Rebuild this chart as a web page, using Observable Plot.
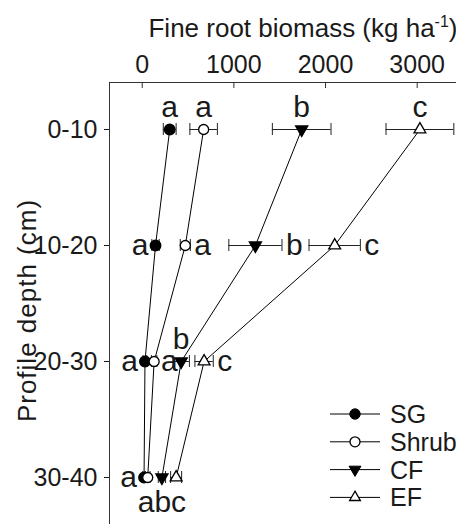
<!DOCTYPE html>
<html><head><meta charset="utf-8">
<script src="https://cdn.jsdelivr.net/npm/d3@7"></script>
<script src="https://cdn.jsdelivr.net/npm/@observablehq/plot@0.6"></script>
<style>
body{margin:0;background:#fff;}
#chart svg{display:block}
</style></head><body><div id="chart"></div>
<script>
const depths = ["0-10", "10-20", "20-30", "30-40"];
const series = ["SG", "Shrub", "CF", "EF"];
const sgMean = [300, 145, 30, 20];
const sgSE = [70, 40, 20, 15];
const shrubMean = [670, 470, 130, 60];
const shrubSE = [150, 55, 30, 25];
const cfMean = [1740, 1235, 425, 215];
const cfSE = [320, 290, 90, 40];
const efMean = [3030, 2100, 675, 370];
const efSE = [370, 280, 100, 60];
const xTicks = [0, 1000, 2000, 3000];
const xLabel = "Fine root biomass (kg ha-1)";
const yLabel = "Profile depth (cm)";
// significance letters
const letterDepth = ["0-10","0-10","0-10","0-10","10-20","10-20","10-20","10-20","20-30","20-30","20-30","20-30","30-40","30-40"];
const letterSeries = ["SG","Shrub","CF","EF","SG","Shrub","CF","EF","SG","Shrub","CF","EF","SG","CF"];
const letterText = ["a","a","b","c","a","a","b","c","a","a","b","c","a","abc"];
const letterPlace = ["above","above","above","above","left","right","right","right","left","right","above","right","left","below"];

const FONT = "'Liberation Sans Narrow', 'Liberation Sans', Arial, sans-serif";
const FONT_REG = "'Liberation Sans', Arial, sans-serif";
const means = [sgMean, shrubMean, cfMean, efMean];
const ses = [sgSE, shrubSE, cfSE, efSE];
const rows = [];
series.forEach((s, si) => depths.forEach((d, di) =>
  rows.push({series: s, depth: d, mean: means[si][di], se: ses[si][di]})));
const find = (s, d) => rows.find(r => r.series === s && r.depth === d);
const letters = letterText.map((t, i) => {
  const r = find(letterSeries[i], letterDepth[i]);
  const p = letterPlace[i];
  return {text: t, depth: r.depth, place: p, x: p === "right" ? r.mean + r.se : r.mean};
});
const of = s => rows.filter(r => r.series === s);
const lp = p => letters.filter(l => l.place === p);
const axisColor = "#333";
const LF = 30;
const TXT = "#1a1a1a";

const plot = Plot.plot({
  width: 456, height: 524,
  marginLeft: 109, marginRight: 0, marginTop: 82, marginBottom: 0,
  style: {fontFamily: FONT, fontSize: "25px", color: TXT, background: "white", overflow: "visible"},
  x: {domain: [-357, 3429], axis: "top", ticks: xTicks, tickFormat: d => String(d), tickSize: 0, tickPadding: 10, label: null},
  y: {type: "point", domain: depths, padding: 0.389, tickSize: 5, tickPadding: 7, label: null},
  marks: [
    Plot.frame({anchor: "top", stroke: axisColor}),
    Plot.frame({anchor: "left", stroke: axisColor}),
    Plot.ruleX(xTicks, {insetBottom: 436, stroke: axisColor}),
    Plot.line(rows, {x: "mean", y: "depth", z: "series", stroke: "black", strokeWidth: 1}),
    Plot.ruleY(rows, {y: "depth", x1: d => d.mean - d.se, x2: d => d.mean + d.se, stroke: "#222", strokeWidth: 1}),
    Plot.ruleX(rows, {x: d => d.mean - d.se, y1: "depth", y2: "depth", insetTop: -6, insetBottom: -6, stroke: "#222"}),
    Plot.ruleX(rows, {x: d => d.mean + d.se, y1: "depth", y2: "depth", insetTop: -6, insetBottom: -6, stroke: "#222"}),
    Plot.dot(of("SG"), {x: "mean", y: "depth", r: 5.2, fill: "black", stroke: "black"}),
    Plot.dot(of("Shrub"), {x: "mean", y: "depth", r: 5, fill: "white", stroke: "black", strokeWidth: 1.3}),
    Plot.dot(of("CF"), {x: "mean", y: "depth", symbol: "triangle", rotate: 180, r: 4.4, fill: "black", stroke: "black"}),
    Plot.dot(of("EF"), {x: "mean", y: "depth", symbol: "triangle", r: 4.4, fill: "white", stroke: "black", strokeWidth: 1.3}),
    Plot.text(lp("above"), {x: "x", y: "depth", text: "text", fontSize: LF, dy: -13, lineAnchor: "bottom", fill: TXT}),
    Plot.text(lp("below"), {x: "x", y: "depth", text: "text", fontSize: LF, dy: 34, lineAnchor: "bottom", fill: TXT}),
    Plot.text(lp("left"), {x: "x", y: "depth", text: "text", fontSize: LF, dx: -7, textAnchor: "end", fill: TXT}),
    Plot.text(lp("right"), {x: "x", y: "depth", text: "text", fontSize: LF, dx: 4, textAnchor: "start", fill: TXT}),
    Plot.text([yLabel], {frameAnchor: "left", textAnchor: "middle", lineAnchor: "bottom", dx: -74, dy: 7, rotate: -90,
      fontSize: 26, fontFamily: FONT_REG, fill: TXT}),
    Plot.text([xLabel], {frameAnchor: "top", textAnchor: "middle", dx: 20, dy: -46, lineAnchor: "bottom", fontSize: 26, fill: TXT})
  ]
});

const svg = d3.select(plot);
// letter spacing for the rotated y label
svg.selectAll("text").filter(function() { return this.textContent === yLabel; })
  .attr("letter-spacing", "1px");
// superscript in the x label
svg.selectAll("text").filter(function() { return this.textContent === xLabel; })
  .each(function() {
    const t = d3.select(this);
    t.text(null);
    t.append("tspan").text("Fine root biomass (kg ha");
    t.append("tspan").attr("dy", -10).attr("font-size", 16).text("-1");
    t.append("tspan").attr("dy", 10).text(")");
  });

// legend
const lg = svg.append("g").attr("font-family", FONT).attr("font-size", 25).attr("fill", TXT).attr("text-anchor", "start");
const symFor = {
  SG: {type: d3.symbolCircle, size: Math.PI * 5.2 * 5.2, fill: "black", rot: 0},
  Shrub: {type: d3.symbolCircle, size: Math.PI * 25, fill: "white", rot: 0},
  CF: {type: d3.symbolTriangle, size: Math.PI * 4.4 * 4.4, fill: "black", rot: 180},
  EF: {type: d3.symbolTriangle, size: Math.PI * 4 * 4, fill: "white", rot: 0}
};
series.forEach((s, i) => {
  const y = 414 + i * 27.8;
  lg.append("line").attr("x1", 330).attr("x2", 380).attr("y1", y).attr("y2", y).attr("stroke", "black");
  const sf = symFor[s];
  lg.append("path").attr("d", d3.symbol(sf.type, sf.size)())
    .attr("transform", `translate(355,${y}) rotate(${sf.rot})`)
    .attr("fill", sf.fill).attr("stroke", "black").attr("stroke-width", s === "SG" || s === "CF" ? 1 : 1.3);
  lg.append("text").attr("x", 390).attr("y", y).attr("dy", "0.36em").text(s);
});

document.getElementById("chart").appendChild(plot);
</script></body></html>
